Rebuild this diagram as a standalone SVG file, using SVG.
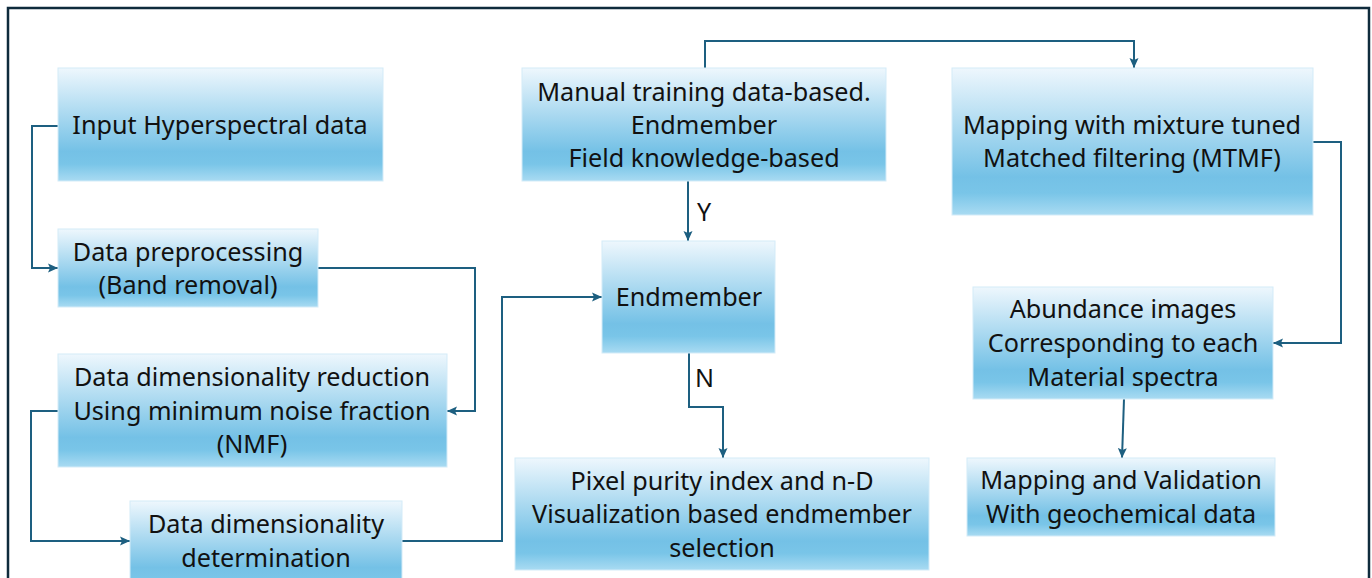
<svg xmlns="http://www.w3.org/2000/svg" width="1372" height="578" viewBox="0 0 1372 578">
<defs>
<linearGradient id="g" x1="0" y1="0" x2="0" y2="1">
<stop offset="0" stop-color="#eef7fd"/>
<stop offset="0.74" stop-color="#74c1e6"/>
<stop offset="0.85" stop-color="#79c5e8"/>
<stop offset="1" stop-color="#a9dbf2"/>
</linearGradient>
<marker id="ah" markerUnits="userSpaceOnUse" markerWidth="10" markerHeight="10" refX="10" refY="5" orient="auto">
<path d="M0,0.5 L10,5 L0,9.5 L2,5 z" fill="#1d5f80"/>
</marker>
<style>
.box{fill:url(#g);stroke:#d3ebf8;stroke-width:1}
.t{font-family:"Noto Sans","Open Sans",sans-serif;font-size:25.2px;fill:#111;text-anchor:middle}
.c{fill:none;stroke:#1d5f80;stroke-width:2;marker-end:url(#ah)}
.lbl{font-family:"Noto Sans","Open Sans",sans-serif;font-size:25px;fill:#111}
</style>
</defs>
<rect x="0" y="0" width="1372" height="578" fill="#ffffff"/>
<rect x="8" y="8" width="1361" height="600" fill="none" stroke="#0f2b3c" stroke-width="2.5"/>

<g id="connectors">
<path class="c" d="M58,126 H32 V268 H58"/>
<path class="c" d="M318,268 H475 V411 H447"/>
<path class="c" d="M58,411 H31 V541 H130"/>
<path class="c" d="M402,541 H502 V297 H602"/>
<path class="c" d="M688,181 V241"/>
<path class="c" d="M705,68 V41 H1134 V68"/>
<path class="c" d="M689,353 V407 H723 V458"/>
<path class="c" d="M1313,142 H1341 V343 H1273"/>
<path class="c" d="M1124,399 L1122,458"/>
<text class="lbl" x="697" y="221">Y</text>
<text class="lbl" x="695" y="387">N</text>
</g>

<g id="input">
<rect class="box" x="58" y="68" width="325" height="113"/>
<text class="t" x="220" y="134">Input Hyperspectral data</text>
</g>
<g id="preprocessing">
<rect class="box" x="58" y="229" width="260" height="78"/>
<text class="t" x="188" y="261">Data preprocessing</text>
<text class="t" x="188" y="294">(Band removal)</text>
</g>
<g id="reduction">
<rect class="box" x="58" y="354" width="389" height="113"/>
<text class="t" x="252" y="386">Data dimensionality reduction</text>
<text class="t" x="252" y="419.5">Using minimum noise fraction</text>
<text class="t" x="252" y="453">(NMF)</text>
</g>
<g id="determination">
<rect class="box" x="130" y="501" width="272" height="90"/>
<text class="t" x="266" y="533">Data dimensionality</text>
<text class="t" x="266" y="567">determination</text>
</g>
<g id="manual">
<rect class="box" x="522" y="68" width="364" height="113"/>
<text class="t" x="704" y="101">Manual training data-based.</text>
<text class="t" x="704" y="134">Endmember</text>
<text class="t" x="704" y="167">Field knowledge-based</text>
</g>
<g id="endmember">
<rect class="box" x="602" y="241" width="173" height="112"/>
<text class="t" x="689" y="306">Endmember</text>
</g>
<g id="ppi">
<rect class="box" x="515" y="458" width="414" height="112"/>
<text class="t" x="722" y="490">Pixel purity index and n-D</text>
<text class="t" x="722" y="523">Visualization based endmember</text>
<text class="t" x="722" y="557">selection</text>
</g>
<g id="mtmf">
<rect class="box" x="952" y="68" width="361" height="147"/>
<text class="t" x="1132" y="134">Mapping with mixture tuned</text>
<text class="t" x="1132" y="167">Matched filtering (MTMF)</text>
</g>
<g id="abundance">
<rect class="box" x="973" y="287" width="300" height="112"/>
<text class="t" x="1123" y="318">Abundance images</text>
<text class="t" x="1123" y="352">Corresponding to each</text>
<text class="t" x="1123" y="386">Material spectra</text>
</g>
<g id="validation">
<rect class="box" x="967" y="458" width="308" height="78"/>
<text class="t" x="1121" y="489">Mapping and Validation</text>
<text class="t" x="1121" y="523">With geochemical data</text>
</g>
</svg>
